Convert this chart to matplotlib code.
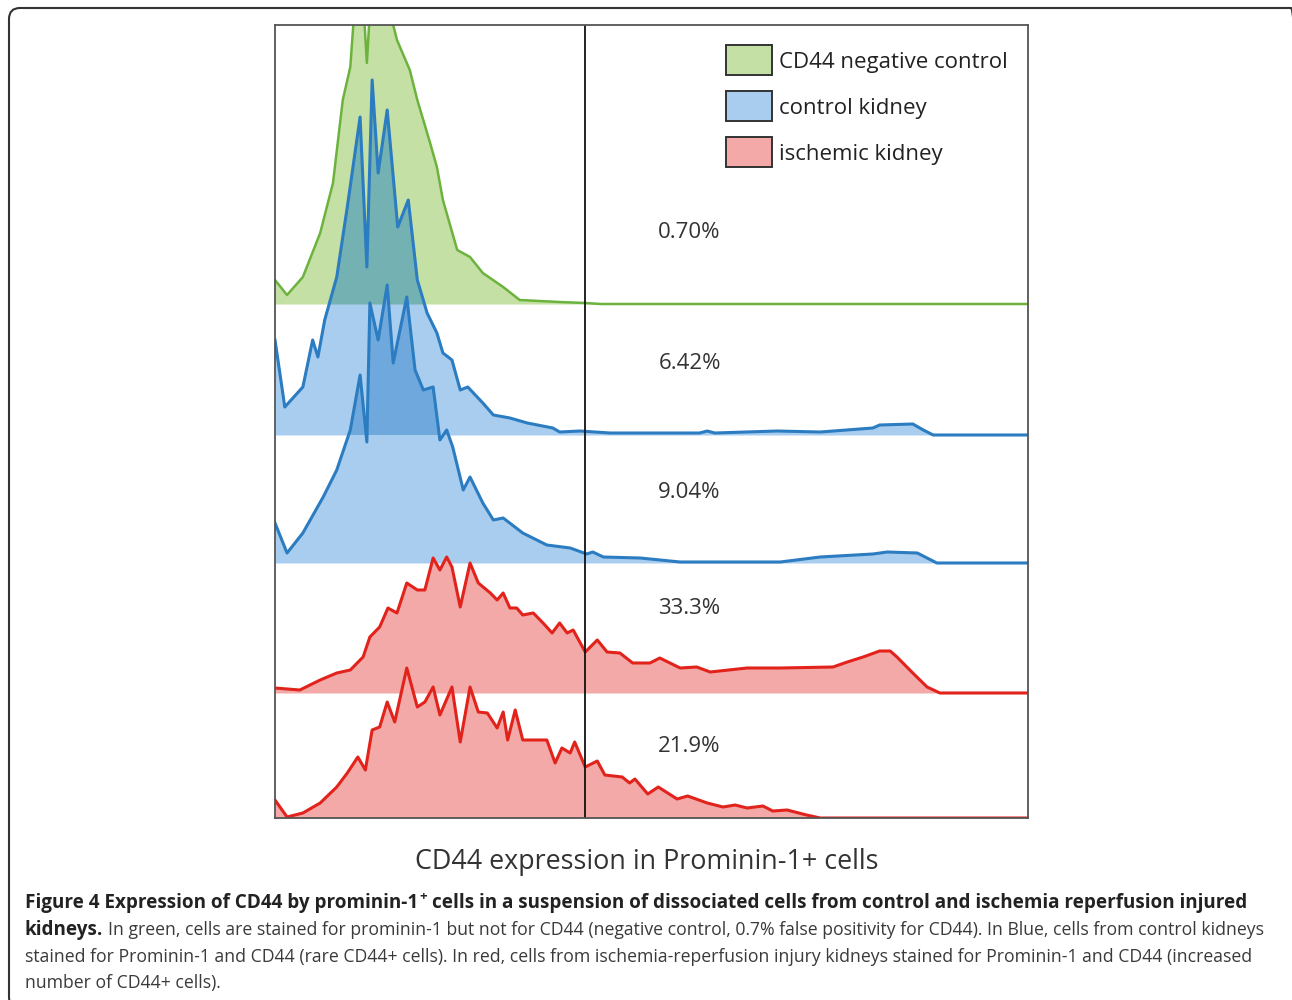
import numpy as np
import matplotlib
matplotlib.use("Agg")
import matplotlib.pyplot as plt
from matplotlib.patches import Rectangle, FancyBboxPatch

# histogram traces (x = channel 0-1000, y = counts above own baseline)
green_x = [0, 16, 37, 60, 77, 90, 100, 106, 117, 122, 127, 146, 155, 162, 179, 189, 206, 215, 223,
           242, 259, 276, 303, 325, 378, 412, 432, 1000]
green_y = [24, 9, 27, 71, 121, 204, 237, 300, 305, 241, 305, 320, 285, 264, 234, 204, 161, 137, 104,
           54, 47, 31, 17, 4, 2, 1, 0, 0]

blue1_x = [0, 13, 37, 50, 57, 66, 82, 96, 113, 122, 129, 137, 149, 163, 177, 189, 193, 202, 215, 223,
           235, 246, 256, 276, 290, 312, 335, 369, 378, 405, 445, 564, 574, 584, 667, 724, 794, 803,
           847, 861, 874, 1000]
blue1_y = [95, 28, 48, 95, 78, 115, 158, 228, 318, 168, 355, 262, 325, 208, 235, 155, 145, 122, 102, 82,
           75, 45, 48, 32, 20, 17, 12, 7, 3, 4, 2, 2, 4, 2, 4, 3, 7, 10,
           11, 5, 0, 0]

blue2_x = [0, 16, 37, 64, 82, 100, 113, 122, 126, 137, 149, 157, 175, 186, 197, 210, 219, 228, 236,
           250, 259, 276, 290, 303, 329, 361, 392, 414, 422, 436, 485, 538, 671, 724, 794, 813, 853,
           879, 1000]
blue2_y = [40, 10, 30, 66, 93, 133, 188, 121, 260, 223, 278, 200, 266, 193, 173, 176, 123, 133, 116,
           73, 86, 60, 43, 45, 30, 18, 15, 9, 11, 6, 5, 1, 1, 6, 9, 11, 10,
           0, 0]

red1_x = [0, 33, 60, 82, 100, 117, 126, 139, 150, 162, 175, 189, 199, 210, 219, 228, 235, 246, 259,
          270, 286, 295, 303, 312, 321, 329, 343, 356, 368, 378, 388, 396, 412, 428, 441, 458, 475,
          498, 511, 538, 560, 578, 627, 671, 741, 760, 781, 803, 817, 826, 847, 866, 883, 1000]
red1_y = [5, 3, 13, 20, 23, 36, 56, 66, 85, 80, 110, 103, 103, 135, 123, 136, 126, 86, 130,
          110, 100, 93, 100, 85, 85, 78, 80, 70, 60, 70, 60, 63, 41, 53, 41, 40, 30,
          30, 35, 25, 26, 21, 25, 25, 26, 31, 36, 42, 42, 36, 20, 6, 0, 0]

red2_x = [0, 16, 37, 60, 82, 96, 110, 120, 129, 139, 149, 159, 175, 189, 199, 210, 219, 235, 246,
          259, 270, 282, 295, 303, 309, 319, 329, 343, 361, 372, 381, 392, 398, 412, 428, 438, 461,
          471, 478, 495, 509, 534, 548, 574, 595, 611, 627, 648, 661, 680, 706, 724, 1000]
red2_y = [18, 1, 5, 15, 31, 45, 61, 48, 88, 91, 116, 96, 150, 111, 116, 131, 103, 131, 76,
          131, 106, 105, 90, 106, 78, 108, 78, 78, 78, 55, 70, 65, 76, 51, 57, 43, 41,
          35, 39, 24, 31, 19, 22, 15, 11, 13, 10, 12, 7, 8, 3, 0, 0]

offsets = [514, 383, 255, 125, 0]
percents = ["0.70%", "6.42%", "9.04%", "33.3%", "21.9%"]
pct_y = [585, 454, 325, 209, 72]
gate = 412

legend_names = ["CD44 negative control", "control kidney", "ischemic kidney"]
fill_cols = ["#c5e0a5", "#a9cdee", "#a9cdee", "#f2a9a8", "#f2a9a8"]
line_cols = ["#6cb33e", "#2b7cc1", "#2b7cc1", "#e2231c", "#e2231c"]
line_w = [1.8, 2.2, 2.2, 2.2, 2.2]
overlap_cols = {(0, 1): "#74b1b3", (1, 2): "#6ea8dc"}

W, H = 1292, 1000
fig = plt.figure(figsize=(W / 100, H / 100), dpi=100)
ax = fig.add_axes([275 / W, 182 / H, 753 / W, 793 / H])

xs = [green_x, blue1_x, blue2_x, red1_x, red2_x]
ys = [green_y, blue1_y, blue2_y, red1_y, red2_y]

# fills
for i in range(5):
    ax.fill_between(xs[i], offsets[i], np.array(ys[i]) + offsets[i], color=fill_cols[i], lw=0)

# where a lower histogram pokes into the one above it the colours mix
grid = np.linspace(0, 1000, 4001)
for (i, j), c in overlap_cols.items():
    top_i = offsets[i] + np.interp(grid, xs[i], ys[i])
    top_j = offsets[j] + np.interp(grid, xs[j], ys[j])
    ax.fill_between(grid, offsets[i], np.minimum(top_i, top_j), where=top_j > offsets[i],
                    color=c, lw=0, interpolate=True)

for i in range(5):
    ax.plot(xs[i], np.array(ys[i]) + offsets[i], color=line_cols[i], lw=line_w[i],
            solid_joinstyle="round")

ax.axvline(gate, color="#111111", lw=1.3)

for p, y in zip(percents, pct_y):
    ax.text(509, y, p, fontsize=16, family="Open Sans", color="#333333", va="center", ha="left")

# legend boxes drawn by hand to match the figure
for k, name in enumerate(legend_names):
    top = 0.975 - k * 0.058
    ax.add_patch(Rectangle((0.599, top - 0.0378), 0.061, 0.0378, transform=ax.transAxes,
                           facecolor=fill_cols[[0, 1, 3][k]], edgecolor="#333333", lw=1.4))
    ax.text(0.669, top - 0.0225, name, transform=ax.transAxes, fontsize=16, family="Open Sans",
            color="#222222", va="center", ha="left")

ax.set_xlim(0, 1000)
ax.set_ylim(0, 793)
ax.set_xticks([])
ax.set_yticks([])
for s in ax.spines.values():
    s.set_color("#555555")
    s.set_linewidth(1.3)

# outer rounded frame, right and bottom edges run off the picture
fig.add_artist(FancyBboxPatch((9, -8), 1293, 1000, boxstyle="round,pad=0,rounding_size=11",
                              transform=None, facecolor="none", edgecolor="#333333", lw=1.5))

renderer = fig.canvas.get_renderer()


def width(t):
    return t.get_window_extent(renderer).width


xl = fig.text(647 / W, 1 - 869 / H, "CD44 expression in Prominin-1+ cells", fontsize=18,
              family="Open Sans", color="#333333", ha="center", va="baseline")
xl.set_fontsize(18 * 463 / width(xl))

cap_font = "Open Sans"
line1a = "Figure 4 Expression of CD44 by prominin-1"
line1b = "cells in a suspension of dissociated cells from control and ischemia reperfusion injured"
line2b = ("In green, cells are stained for prominin-1 but not for CD44 (negative control, 0.7% "
          "false positivity for CD44). In Blue, cells from control kidneys")
line3 = ("stained for Prominin-1 and CD44 (rare CD44+ cells). In red, cells from ischemia-reperfusion "
         "injury kidneys stained for Prominin-1 and CD44 (increased")
line4 = "number of CD44+ cells)."


def fit_size(s, target, weight="normal"):
    tmp = fig.text(0, 0, s, fontsize=14, fontweight=weight, family=cap_font)
    f = 14 * target / width(tmp)
    tmp.remove()
    return f


size = fit_size(line1a + "+ " + line1b, 1225, "bold")
gap = 0.26 * size * 100 / 72


def put(x, base, s, weight="normal", fs=None, color="#222222"):
    t = fig.text(x / W, 1 - base / H, s, fontsize=fs or size, fontweight=weight, family=cap_font,
                 color=color, ha="left", va="baseline")
    return x + width(t)


x = put(25, 908, line1a, "bold")
x = put(x + 1, 900, "+", "bold", fs=size * 0.7)
put(x + gap, 908, line1b, "bold")

x = put(25, 935, "kidneys.", "bold")
reg = min(fit_size(line2b, 1275 - x - gap), fit_size(line3, 1233))
put(x + gap, 935, line2b, fs=reg, color="#3a3a3a")
put(25, 962, line3, fs=reg, color="#3a3a3a")
put(25, 988, line4, fs=reg, color="#3a3a3a")

fig.savefig("out.png", dpi=100)
